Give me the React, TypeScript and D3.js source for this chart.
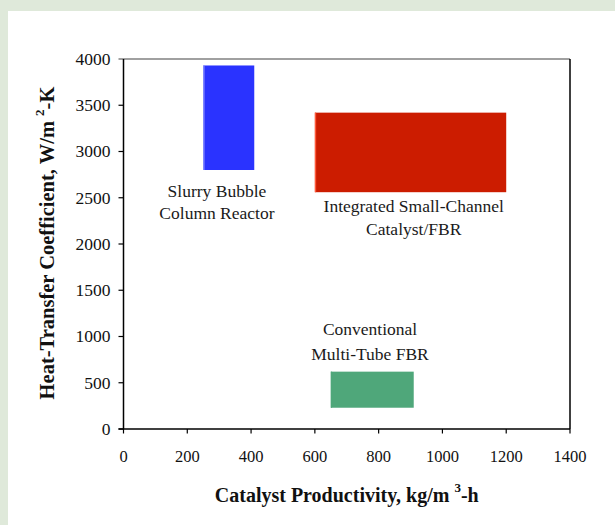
import React from "react";
import * as d3 from "d3";

const categories = ["Slurry Bubble Column Reactor", "Integrated Small-Channel Catalyst/FBR", "Conventional Multi-Tube FBR"];
const xMin = [250, 600, 650];
const xMax = [410, 1200, 910];
const yMin = [2800, 2560, 230];
const yMax = [3930, 3420, 620];
const colors = ["#2a33ff", "#cc1c00", "#4fa77a"];
const edgeColors = ["#8a90ff", "#ff5a3a", "#4fa77a"];
const labelLines = [["Slurry Bubble", "Column Reactor"], ["Integrated Small-Channel", "Catalyst/FBR"], ["Conventional", "Multi-Tube FBR"]];
const labelX = [293, 910, 773];
const labelY = [2508, 2349, 1016];
const labelGap = [22, 23, 25];
const xTicks = [0, 200, 400, 600, 800, 1000, 1200, 1400];
const yTicks = [0, 500, 1000, 1500, 2000, 2500, 3000, 3500, 4000];

const W = 615, H = 525;
const left = 123.5, right = 570, top = 59, bottom = 429;

export default function App() {
  const x = d3.scaleLinear().domain([0, 1400]).range([left, right]);
  const y = d3.scaleLinear().domain([0, 4000]).range([bottom, top]);
  const serif = "'Liberation Serif', 'Times New Roman', serif";
  return (
    <svg width={W} height={H} style={{ position: "absolute", left: 0, top: 0 }} fontFamily={serif}>
      <rect x={0} y={0} width={W} height={H} fill="#dfe9da" />
      <rect x={8} y={11} width={W - 8} height={H - 11} fill="#ffffff" />
      {categories.map((c, i) => (
        <g key={c}>
          <rect x={x(xMin[i])} y={y(yMax[i])} width={x(xMax[i]) - x(xMin[i])} height={y(yMin[i]) - y(yMax[i])} fill={colors[i]} />
          <rect x={x(xMin[i])} y={y(yMax[i])} width={1.3} height={y(yMin[i]) - y(yMax[i])} fill={edgeColors[i]} />
          {labelLines[i].map((t, j) => (
            <text key={t} x={x(labelX[i])} y={y(labelY[i]) + j * labelGap[i]} textAnchor="middle" fontSize={17.5} fill="#1a1a1a">{t}</text>
          ))}
        </g>
      ))}
      {/* frame */}
      <line x1={x(0) - 5} x2={x(1400)} y1={y(4000)} y2={y(4000)} stroke="#808080" strokeWidth={1.6} />
      <line x1={x(1400)} x2={x(1400)} y1={y(4000)} y2={y(0)} stroke="#000" strokeWidth={1.5} />
      <line x1={x(0)} x2={x(0)} y1={y(4000)} y2={y(0)} stroke="#000" strokeWidth={1.5} />
      <line x1={x(0) - 5} x2={x(1400)} y1={y(0)} y2={y(0)} stroke="#000" strokeWidth={1.5} />
      {yTicks.map((t) => (
        <g key={"y" + t}>
          {t < 4000 && <line x1={x(0) - 5} x2={x(0)} y1={y(t)} y2={y(t)} stroke="#000" strokeWidth={1.2} />}
          <text x={x(0) - 13} y={y(t) + 5.8} textAnchor="end" fontSize={17.5} fill="#111">{t}</text>
        </g>
      ))}
      {xTicks.map((t) => (
        <g key={"x" + t}>
          <line x1={x(t)} x2={x(t)} y1={y(0)} y2={y(0) + 4.5} stroke="#000" strokeWidth={1.2} />
          <text x={x(t)} y={y(0) + 32.7} textAnchor="middle" fontSize={16.5} fill="#111">{t}</text>
        </g>
      ))}
      <text x={(left + right) / 2} y={502} textAnchor="middle" fontSize={20} fontWeight="bold" fill="#111">
        <tspan>{"Catalyst Productivity, kg/m "}</tspan>
        <tspan dy={-10} fontSize={13}>3</tspan>
        <tspan dy={10}>-h</tspan>
      </text>
      <text transform={`translate(54, ${(top + bottom) / 2 - 1}) rotate(-90)`} textAnchor="middle" fontSize={20.5} fontWeight="bold" fill="#111">
        <tspan>{"Heat-Transfer Coefficient, W/m "}</tspan>
        <tspan dy={-10} fontSize={13}>2</tspan>
        <tspan dy={10}>-K</tspan>
      </text>
    </svg>
  );
}
